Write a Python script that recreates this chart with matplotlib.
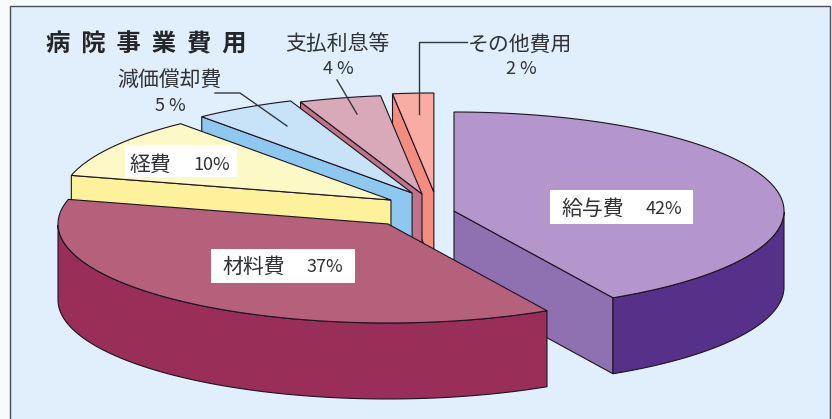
import numpy as np
import matplotlib
matplotlib.use("Agg")
import matplotlib.pyplot as plt
from matplotlib.patches import Polygon, Rectangle
from matplotlib.transforms import Affine2D

plt.rcParams['font.family'] = ['Noto Sans CJK JP', 'DejaVu Sans']

# data
categories = ['給与費', '材料費', '経費', '減価償却費', '支払利息等', 'その他費用']
values = [42, 37, 10, 5, 4, 2]

# style
top_colors = ['#b596cc', '#b5617b', '#fdf9c6', '#c8e3f8', '#d8aab9', '#f9aca3']
radial_colors = ['#8f70b1', '#992e58', '#fdf29b', '#8fc8ef', '#bf7389', '#f48d80']
arc_colors = ['#573089', '#992e58', '#fdf29b', '#8fc8ef', '#bf7389', '#f48d80']
explode_x = [0, -0.200, -0.191, -0.127, -0.097, -0.061]
explode_y = [0, -0.131, 0.111, 0.182, 0.172, 0.192]
draw_order = [5, 4, 3, 2, 0, 1]
depth = 76 / 99
W, H = 832, 419
EDGE = '#1c1420'

fig = plt.figure(figsize=(W / 100, H / 100), dpi=100, facecolor='#f8fafc')
px = Affine2D().scale(1 / W, -1 / H).translate(0, 1) + fig.transFigure

fig.add_artist(Rectangle((9.5, 6.5), 820, 420, transform=px, facecolor='#e0effb',
                         edgecolor='#4a5058', linewidth=1.0, zorder=-5))

ax = fig.add_axes([0, 0, 1, 1])
ax.patch.set_visible(False)
ax.set_xlim(-454 / 330, (W - 454) / 330)
ax.set_ylim((211 - H) / 99, 211 / 99)
ax.axis('off')

fractions = np.array(values) / sum(values)
bounds = 90 - 360 * np.concatenate([[0], np.cumsum(fractions)])


def arc(start, end, cx, cy):
    n = max(int(abs(start - end)) + 2, 2)
    t = np.radians(np.linspace(start, end, n))
    return np.column_stack([cx + np.cos(t), cy + np.sin(t)])


for i in draw_order:
    a0, a1 = bounds[i], bounds[i + 1]
    cx, cy = explode_x[i], explode_y[i]
    apex = np.array([cx, cy])
    # radial side faces, only those that face the viewer
    c0, c1 = np.cos(np.radians(a0)), np.cos(np.radians(a1))
    for a, visible in ((a0, c0 < -1e-9), (a1, c1 > 1e-9)):
        if not visible:
            continue
        rim = arc(a, a, cx, cy)[0]
        quad = [apex, rim, rim - [0, depth], apex - [0, depth]]
        ax.add_patch(Polygon(quad, closed=True, facecolor=radial_colors[i],
                             edgecolor=EDGE, linewidth=0.8))
    # outer curved side, only the part that faces the viewer
    grid = arc(a0, a1, cx, cy)
    low = grid[grid[:, 1] <= cy + 1e-9]
    if len(low) > 1:
        band = np.vstack([low, (low - [0, depth])[::-1]])
        ax.add_patch(Polygon(band, closed=True, facecolor=arc_colors[i],
                             edgecolor=EDGE, linewidth=0.8))
    # top face
    top = np.vstack([apex, grid])
    ax.add_patch(Polygon(top, closed=True, facecolor=top_colors[i],
                         edgecolor=EDGE, linewidth=0.8))

# annotations (pixel coordinates of the page)
lc = '#33363a'
for xs, ys in [((337, 357), (80, 114)),
               ((215, 240, 287), (93, 93, 126)),
               ((467, 419, 419), (42, 42, 114))]:
    fig.add_artist(plt.Line2D(xs, ys, transform=px, color=lc, linewidth=1.0))

tc = '#303236'
fig.text(146, 44, '病  院  事  業  費  用', transform=px, fontsize=17.5, fontweight='bold',
         color='#26262a', ha='center', va='center')

for name, pct, x, y1, y2 in [(categories[4], values[4], 337, 43.5, 68.5),
                             (categories[3], values[3], 169, 79.5, 105.5),
                             (categories[5], values[5], 520, 44.5, 69.5)]:
    fig.text(x, y1, name, transform=px, fontsize=15, color=tc, ha='center', va='center')
    fig.text(x + 1.5, y2, f'{pct} %', transform=px, fontsize=13, color=tc, ha='center', va='center')

boxes = [(0, (550, 190, 143, 34), 593, 664, 208.5),
         (1, (211, 249, 144, 34), 254, 325, 266.5),
         (2, (125, 145, 112, 32), 150, 212, 164.5)]
for i, (bx, by, bw, bh), xn, xp, y in boxes:
    fig.add_artist(Rectangle((bx, by), bw, bh, transform=px, facecolor='white', edgecolor='none', zorder=4))
    fig.text(xn, y, categories[i], transform=px, fontsize=15, color=tc, ha='center', va='center', zorder=5)
    fig.text(xp, y, f'{values[i]}%', transform=px, fontsize=13, color=tc, ha='center', va='center', zorder=5)

fig.savefig('out.png', dpi=100, facecolor=fig.get_facecolor())
